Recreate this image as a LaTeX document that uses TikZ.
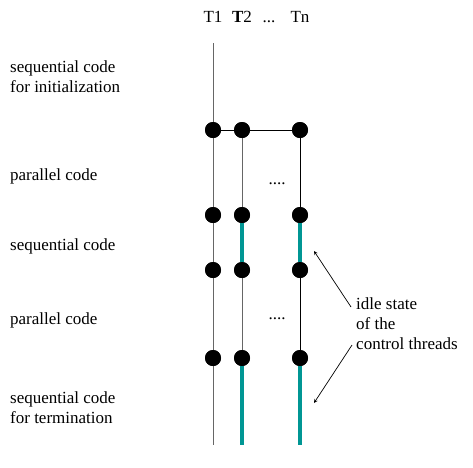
\documentclass[tikz,border=0pt]{standalone}
\usepackage{fontspec}
\setmainfont{Liberation Serif}
\definecolor{idlecol}{RGB}{0,150,148}
\begin{document}
\begin{tikzpicture}[x=1pt,y=-1pt,
  dot/.style={circle,fill=black,inner sep=0pt,minimum size=16pt},
  lbl/.style={font=\fontsize{17}{20}\selectfont,align=left,anchor=west,inner sep=0pt},
  hdr/.style={font=\fontsize{17}{18}\selectfont,inner sep=0pt},
  thin1/.style={draw=gray!80!black,line width=0.8pt},
  thinb/.style={draw=black,line width=0.8pt},
  idle/.style={draw=idlecol,line width=4pt},
  arr/.style={->,>=stealth,line width=0.7pt}]
\useasboundingbox (0,0) rectangle (473,467);
% coordinates
\coordinate (t1top) at (213,43);
\coordinate (t1bot) at (213,445);
\coordinate (t2bot) at (242,445);
\coordinate (tnbot) at (300,445);
% dots
\foreach \r/\y in {a/130,b/215,c/270,d/358}{
  \node[dot] (\r1) at (213,\y) {};
  \node[dot] (\r2) at (242,\y) {};
  \node[dot] (\r n) at (300,\y) {};
}
% threads
\draw[thin1] (t1top) -- (t1bot);
\draw[thinb] (a1) -- (a2) -- (an);
\draw[thin1] (a2) -- (b2);
\draw[thin1] (c2) -- (d2);
\draw[thinb] (an) -- (bn);
\draw[thinb] (cn) -- (dn);
\draw[idle] (b2) -- (c2);
\draw[idle] (bn) -- (cn);
\draw[idle] (d2) -- (t2bot);
\draw[idle] (dn) -- (tnbot);
% redraw dots on top
\foreach \r/\y in {a/130,b/215,c/270,d/358}{
  \node[dot] at (213,\y) {};
  \node[dot] at (242,\y) {};
  \node[dot] at (300,\y) {};
}
% headers
\node[hdr] (h1) at (213,17) {T1};
\node[hdr] (h2) at (242,17) {\textbf{T}2};
\node[hdr,anchor=base] (hd) at (269,22) {...};
\node[hdr] (hn) at (300,17) {Tn};
\node[hdr,anchor=base] (p1) at (277,184) {....};
\node[hdr,anchor=base] (p2) at (277,319) {....};
% left labels
\node[lbl] (l1) at (10,77) {sequential code\\for initialization};
\node[lbl] (l2) at (10,176) {parallel code};
\node[lbl] (l3) at (10,246) {sequential code};
\node[lbl] (l4) at (10,320) {parallel code};
\node[lbl] (l5) at (10,408) {sequential code\\for termination};
% right label
\node[lbl] (idl) at (356,324) {idle state\\of the\\control threads};
\coordinate (a1s) at (351,307);
\coordinate (a1e) at (314,251);
\coordinate (a2s) at (352,345);
\coordinate (a2e) at (314,403);
\draw[arr] (a1s) -- (a1e);
\draw[arr] (a2s) -- (a2e);
\end{tikzpicture}
\end{document}
